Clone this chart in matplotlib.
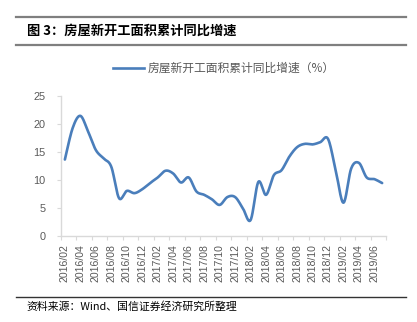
import numpy as np
import matplotlib.pyplot as plt
from matplotlib.lines import Line2D

plt.rcParams['font.family'] = ['Noto Sans CJK SC', 'DejaVu Sans']

# monthly, 2016/02 .. 2019/07
months = []
for yr in range(2016, 2020):
    for m in range(1, 13):
        if (yr == 2016 and m < 2) or (yr == 2019 and m > 7):
            continue
        months.append(f'{yr}/{m:02d}')

growth = [13.6, 19.2, 21.4, 18.6, 15.3, 13.8, 12.3, 6.7, 8.0, 7.6,
          8.3, 9.4, 10.4, 11.6, 11.1, 9.5, 10.4, 7.9, 7.3, 6.5,
          5.5, 6.9, 6.9, 4.9, 2.8, 9.6, 7.3, 10.8, 11.7, 14.1,
          15.8, 16.4, 16.3, 16.7, 17.3, 11.7, 5.9, 12.0, 13.0, 10.4,
          10.1, 9.4]

series_name = '房屋新开工面积累计同比增速（%）'
title = '图 3：房屋新开工面积累计同比增速'
source = '资料来源：Wind、国信证券经济研究所整理'


def smooth(x, y, n=20):
    # bezier segments with catmull-rom style control points
    x = np.asarray(x, float)
    y = np.asarray(y, float)
    px = np.concatenate([[x[0]], x, [x[-1]]])
    py = np.concatenate([[y[0]], y, [y[-1]]])
    xs, ys = [], []
    t = np.linspace(0, 1, n, endpoint=False)
    for i in range(len(x) - 1):
        p0 = np.array([px[i + 1], py[i + 1]])
        p3 = np.array([px[i + 2], py[i + 2]])
        p1 = p0 + (p3 - np.array([px[i], py[i]])) / 6
        p2 = p3 - (np.array([px[i + 3], py[i + 3]]) - p0) / 6
        pts = ((1 - t) ** 3)[:, None] * p0 + (3 * (1 - t) ** 2 * t)[:, None] * p1 \
            + (3 * (1 - t) * t ** 2)[:, None] * p2 + (t ** 3)[:, None] * p3
        xs.extend(pts[:, 0])
        ys.extend(pts[:, 1])
    xs.append(x[-1])
    ys.append(y[-1])
    return xs, ys


fig = plt.figure(figsize=(4.17, 3.22), dpi=100)
ax = fig.add_axes([0.1463, 0.268, 0.7794, 0.4348])

idx = np.arange(len(months))
sx, sy = smooth(idx, growth)
ax.plot(sx, sy, color='#4a7ebb', lw=1.9, solid_capstyle='round')

ax.set_xlim(-0.5, len(months) - 0.5)
ax.set_ylim(0, 25)
ax.set_yticks(range(0, 26, 5))
ax.set_xticks(idx[::2])
ax.set_xticklabels(months[::2], rotation=90, family=['Liberation Sans'])
ax.set_xticks(np.arange(-0.5, len(months), 2), minor=True)
ax.tick_params(axis='x', which='major', length=0, pad=6, labelsize=7.6,
               labelcolor='#595959')
ax.tick_params(axis='x', which='minor', length=3, color='#d9d9d9', width=0.8)
ax.tick_params(axis='y', length=3, color='#d9d9d9', width=0.8, pad=8,
               labelsize=7.8, labelcolor='#595959')
for lab in ax.get_yticklabels():
    lab.set_family(['Liberation Sans'])

for side in ('top', 'right'):
    ax.spines[side].set_visible(False)
for side in ('left', 'bottom'):
    ax.spines[side].set_color('#d9d9d9')
    ax.spines[side].set_linewidth(1)

# legend
fig.add_artist(Line2D([113 / 417, 144 / 417], [1 - 68 / 322] * 2,
                      color='#4a7ebb', lw=1.9))
fig.text(148 / 417, 1 - 68 / 322, series_name, fontsize=8.5, color='#595959',
         va='center', ha='left')

# header and footer rules
for yy in (16.5, 45, 296.5):
    fig.add_artist(Line2D([16 / 417, 406 / 417], [1 - yy / 322] * 2,
                          color='#7f7f7f' if yy < 50 else '#333333',
                          lw=1.6 if yy < 50 else 1.0))

fig.text(27 / 417, 1 - 31 / 322, title, fontsize=9.5, fontweight='bold',
         va='center', ha='left', color='black')
fig.text(26 / 417, 1 - 306 / 322, source, fontsize=7.8, va='center',
         ha='left', color='black')

fig.savefig('out.png', dpi=100, facecolor='white')
